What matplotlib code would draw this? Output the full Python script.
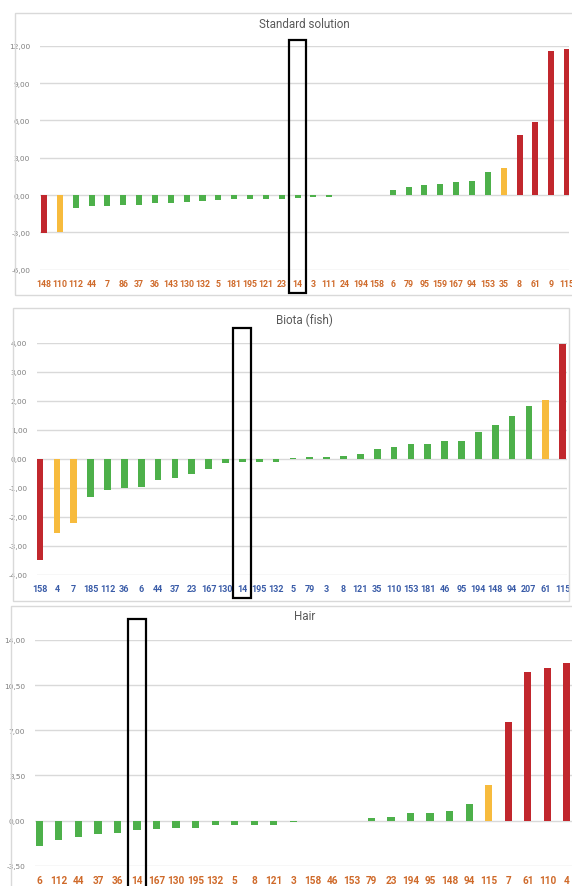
import matplotlib.pyplot as plt
import matplotlib.transforms as mtransforms
from matplotlib.patches import Rectangle

# Standard solution
std_labels = ['148', '110', '112', '44', '7', '86', '37', '36', '143', '130', '132', '5',
              '181', '195', '121', '23', '14', '3', '111', '24', '194', '158', '6', '79',
              '95', '159', '167', '94', '153', '35', '8', '61', '9', '115']
std_values = [-3.06, -2.94, -1.04, -0.91, -0.91, -0.83, -0.83, -0.62, -0.62, -0.57, -0.48, -0.40,
              -0.30, -0.30, -0.30, -0.30, -0.20, -0.15, -0.15, 0.0, 0.0, 0.0, 0.43, 0.64,
              0.80, 0.88, 1.01, 1.09, 1.87, 2.21, 4.86, 5.85, 11.60, 11.73]
std_status = ['r', 'y'] + ['g'] * 27 + ['y', 'r', 'r', 'r', 'r']

# Biota (fish)
fish_labels = ['158', '4', '7', '185', '112', '36', '6', '44', '37', '23', '167', '130', '14',
               '195', '132', '5', '79', '3', '8', '121', '35', '110', '153', '181', '46', '95',
               '194', '148', '94', '207', '61', '115']
fish_values = [-3.49, -2.55, -2.21, -1.31, -1.07, -1.00, -0.98, -0.75, -0.68, -0.52, -0.37, -0.15,
               -0.11, -0.11, -0.11, 0.02, 0.07, 0.07, 0.10, 0.16, 0.32, 0.40, 0.52, 0.52, 0.61, 0.61,
               0.93, 1.16, 1.48, 1.83, 2.01, 3.97]
fish_status = ['r', 'y', 'y'] + ['g'] * 27 + ['y', 'r']

# Hair
hair_labels = ['6', '112', '44', '37', '36', '14', '167', '130', '195', '132', '5', '8', '121',
               '3', '158', '46', '153', '79', '23', '194', '95', '148', '94', '115', '7', '61',
               '110', '4']
hair_values = [-1.94, -1.50, -1.24, -1.04, -0.96, -0.70, -0.62, -0.54, -0.54, -0.36, -0.36, -0.36,
               -0.36, -0.13, 0.0, 0.0, 0.0, 0.16, 0.28, 0.57, 0.57, 0.73, 1.27, 2.72, 7.67, 11.50,
               11.84, 12.18]
hair_status = ['g'] * 23 + ['y', 'r', 'r', 'r', 'r']

status_colors = {'g': '#4db04a', 'y': '#f7bb3d', 'r': '#c1272d'}

W, H = 572, 887
fig = plt.figure(figsize=(W / 100, H / 100), dpi=100)


def px_axes(left, top, right, bottom):
    return fig.add_axes([left / W, 1 - bottom / H, (right - left) / W, (bottom - top) / H])


def frame(left, top, right, bottom):
    fig.patches.append(Rectangle((left / W, 1 - bottom / H), (right - left) / W, (bottom - top) / H,
                                 transform=fig.transFigure, fill=False, edgecolor='#d9d9d9',
                                 linewidth=1.0))


def panel(ax, labels, values, status, title, ylim, yticks, xlim, width, label_color, label_size,
          title_y, box_half, box_y):
    x = list(range(len(labels)))
    ax.bar(x, values, width=width, color=[status_colors[s] for s in status], zorder=3)
    ax.set_xlim(*xlim)
    ax.set_ylim(*ylim)
    ax.set_yticks(yticks)
    ax.set_yticklabels([('%.2f' % t).replace('.', ',') for t in yticks],
                       fontsize=5.3, color='#7f7f7f')
    ax.set_xticks(x)
    ax.set_xticklabels(labels, fontsize=label_size, fontweight='bold', color=label_color,
                       family=['Roboto', 'DejaVu Sans'])
    ax.tick_params(axis='x', length=0, pad=7)
    ax.tick_params(axis='y', length=0, pad=7)
    ax.grid(axis='y', color='#d9d9d9', linewidth=1.0, zorder=0)
    ax.set_axisbelow(True)
    for s in ax.spines.values():
        s.set_visible(False)
    ax.set_facecolor('none')
    fig.text(0.532, 1 - title_y / H, title, ha='center', va='center', fontsize=8.4,
             color='#595959', family=['Roboto', 'DejaVu Sans'])
    # highlight box around sample 14
    i = labels.index('14')
    trans = mtransforms.blended_transform_factory(ax.transData, ax.transAxes)
    ax.add_patch(Rectangle((i - box_half, box_y[0]), 2 * box_half, box_y[1] - box_y[0],
                           transform=trans, fill=False, edgecolor='black', linewidth=1.6,
                           clip_on=False, zorder=5))


frame(15, 14, 580, 296)
frame(13, 309, 569, 602)
frame(11, 607, 580, 900)

ax1 = px_axes(40, 46.7, 569, 270.7)
panel(ax1, std_labels, std_values, std_status, 'Standard solution', (-6, 12),
      [-6, -3, 0, 3, 6, 9, 12], (-0.25, 33.12), 0.38, '#cf6a2a', 6.3, 24, 0.56, (-0.105, 1.027))

ax2 = px_axes(37, 343.7, 567, 575.7)
panel(ax2, fish_labels, fish_values, fish_status, 'Biota (fish)', (-4, 4),
      [-4, -3, -2, -1, 0, 1, 2, 3, 4], (-0.18, 31.26), 0.40, '#3a5ca8', 6.5, 320, 0.54,
      (-0.10, 1.062))

ax3 = px_axes(35, 641, 578, 866.7)
panel(ax3, hair_labels, hair_values, hair_status, 'Hair', (-3.5, 14),
      [-3.5, 0, 3.5, 7, 10.5, 14], (-0.22, 27.57), 0.37, '#cf6a2a', 7.2, 617, 0.47,
      (-0.15, 1.093))

fig.savefig('out.png', dpi=100)
